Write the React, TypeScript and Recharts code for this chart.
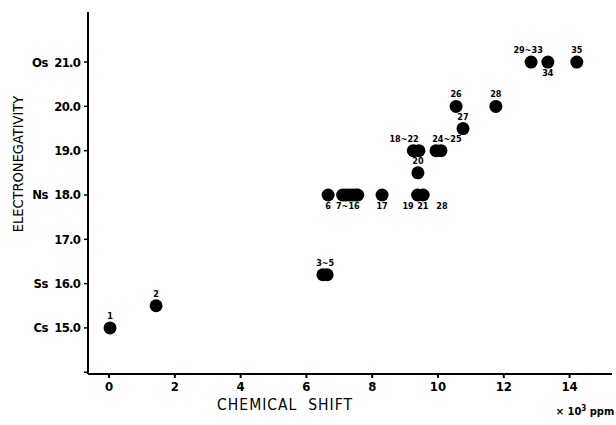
import React from 'react';
import { ScatterChart, Scatter, XAxis, YAxis } from 'recharts';

// dots (x in 10^3 ppm, y electronegativity)
const dotX = [0.03, 1.43, 6.5, 6.63, 6.66, 7.1, 7.2, 7.3, 7.4, 7.5, 7.56, 8.3, 9.38, 9.55, 9.39, 9.25, 9.42, 9.94, 10.09, 10.76, 10.55, 11.76, 12.83, 13.34, 14.22];
const dotY = [15.0, 15.5, 16.2, 16.2, 18.0, 18.0, 18.0, 18.0, 18.0, 18.0, 18.0, 18.0, 18.0, 18.0, 18.5, 19.0, 19.0, 19.0, 19.0, 19.5, 20.0, 20.0, 21.0, 21.0, 21.0];

// point labels
const labelText = ['1', '2', '3~5', '6', '7~16', '17', '19', '21', '28', '20', '18~22', '24~25', '27', '26', '28', '29~33', '34', '35'];
const labelX = [0.03, 1.43, 6.57, 6.66, 7.26, 8.3, 9.09, 9.54, 10.12, 9.39, 8.97, 10.27, 10.76, 10.55, 11.76, 12.74, 13.34, 14.22];
const labelY = [15.0, 15.5, 16.2, 18.0, 18.0, 18.0, 18.0, 18.0, 18.0, 18.5, 19.0, 19.0, 19.5, 20.0, 20.0, 21.0, 21.0, 21.0];
const labelBelow = [false, false, false, true, true, true, true, true, true, false, false, false, false, false, false, false, true, false];

const xTicks = [0, 2, 4, 6, 8, 10, 12, 14];
const yTicks = [14, 15, 16, 17, 18, 19, 20, 21];
const yPrefix: Record<number, string> = { 15: 'Cs', 16: 'Ss', 18: 'Ns', 21: 'Os' };

const dots = dotX.map((x, i) => ({ x, y: dotY[i] }));
const labels = labelX.map((x, i) => ({ x, y: labelY[i], text: labelText[i], below: labelBelow[i] }));

const font = '"DejaVu Sans Condensed", "DejaVu Sans", sans-serif';

function Dot(props: any) {
  const { cx, cy } = props;
  return <circle cx={cx} cy={cy} r={6.5} fill="#000" />;
}

function PointLabel(props: any) {
  const { cx, cy, payload } = props;
  const dy = payload.below ? 14 : -9;
  return (
    <text x={cx} y={cy + dy} textAnchor="middle" fontSize={9} fontWeight="bold" fontFamily={font} fill="#000">
      {payload.text}
    </text>
  );
}

function YTick(props: any) {
  const { y, payload } = props;
  if (payload.value === 14) return null;
  const prefix = yPrefix[payload.value];
  return (
    <g fontFamily={font} fontWeight="bold" fontSize={13} fill="#000">
      <text x={80} y={y} dy={4.5} textAnchor="end" letterSpacing={-0.8}>
        {payload.value.toFixed(1)}
      </text>
      {prefix && (
        <text x={48} y={y} dy={4.5} textAnchor="end" letterSpacing={-0.5}>
          {prefix}
        </text>
      )}
    </g>
  );
}

export default function App() {
  return (
    <div style={{ position: 'absolute', left: 0, top: 0, width: 616, height: 425, background: '#fff' }}>
      <ScatterChart width={616} height={425} margin={{ top: 12, right: 4, bottom: 21, left: 0 }}>
        <XAxis
          type="number"
          dataKey="x"
          domain={[-0.64, 15.29]}
          ticks={xTicks}
          allowDataOverflow
          axisLine={{ stroke: '#000', strokeWidth: 2 }}
          tickLine={{ stroke: '#000', strokeWidth: 2 }}
          tickSize={4}
          tickMargin={4}
          height={30}
          tick={{ fontSize: 13, fontWeight: 'bold', fontFamily: font, fill: '#000' }}
        />
        <YAxis
          type="number"
          dataKey="y"
          domain={[13.96, 22.13]}
          ticks={yTicks}
          allowDataOverflow
          width={88}
          axisLine={{ stroke: '#000', strokeWidth: 2 }}
          tickLine={{ stroke: '#000', strokeWidth: 1.5 }}
          tickSize={4}
          tick={<YTick />}
        />
        <Scatter data={dots} shape={<Dot />} isAnimationActive={false} />
        <Scatter data={labels} shape={<PointLabel />} isAnimationActive={false} />
      </ScatterChart>
      <div style={{ position: 'absolute', left: 0, top: 164, width: 0, height: 0 }}>
        <div
          style={{
            position: 'absolute', left: 18, top: 0, transform: 'translate(-50%, -50%) rotate(-90deg)',
            whiteSpace: 'nowrap', fontFamily: font, fontSize: 14.5, color: '#000',
          }}
        >
          ELECTRONEGATIVITY
        </div>
      </div>
      <div
        style={{
          position: 'absolute', left: 285, top: 405, transform: 'translate(-50%, -50%)',
          whiteSpace: 'nowrap', fontFamily: font, fontSize: 15.5, color: '#000', letterSpacing: 1,
        }}
      >
        CHEMICAL&nbsp;&nbsp;SHIFT
      </div>
      <div
        style={{
          position: 'absolute', left: 585, top: 411, transform: 'translate(-50%, -50%)',
          whiteSpace: 'nowrap', fontFamily: font, fontSize: 11, fontWeight: 'bold', color: '#000',
        }}
      >
        × 10<sup style={{ fontSize: 8 }}>3</sup> ppm
      </div>
    </div>
  );
}
